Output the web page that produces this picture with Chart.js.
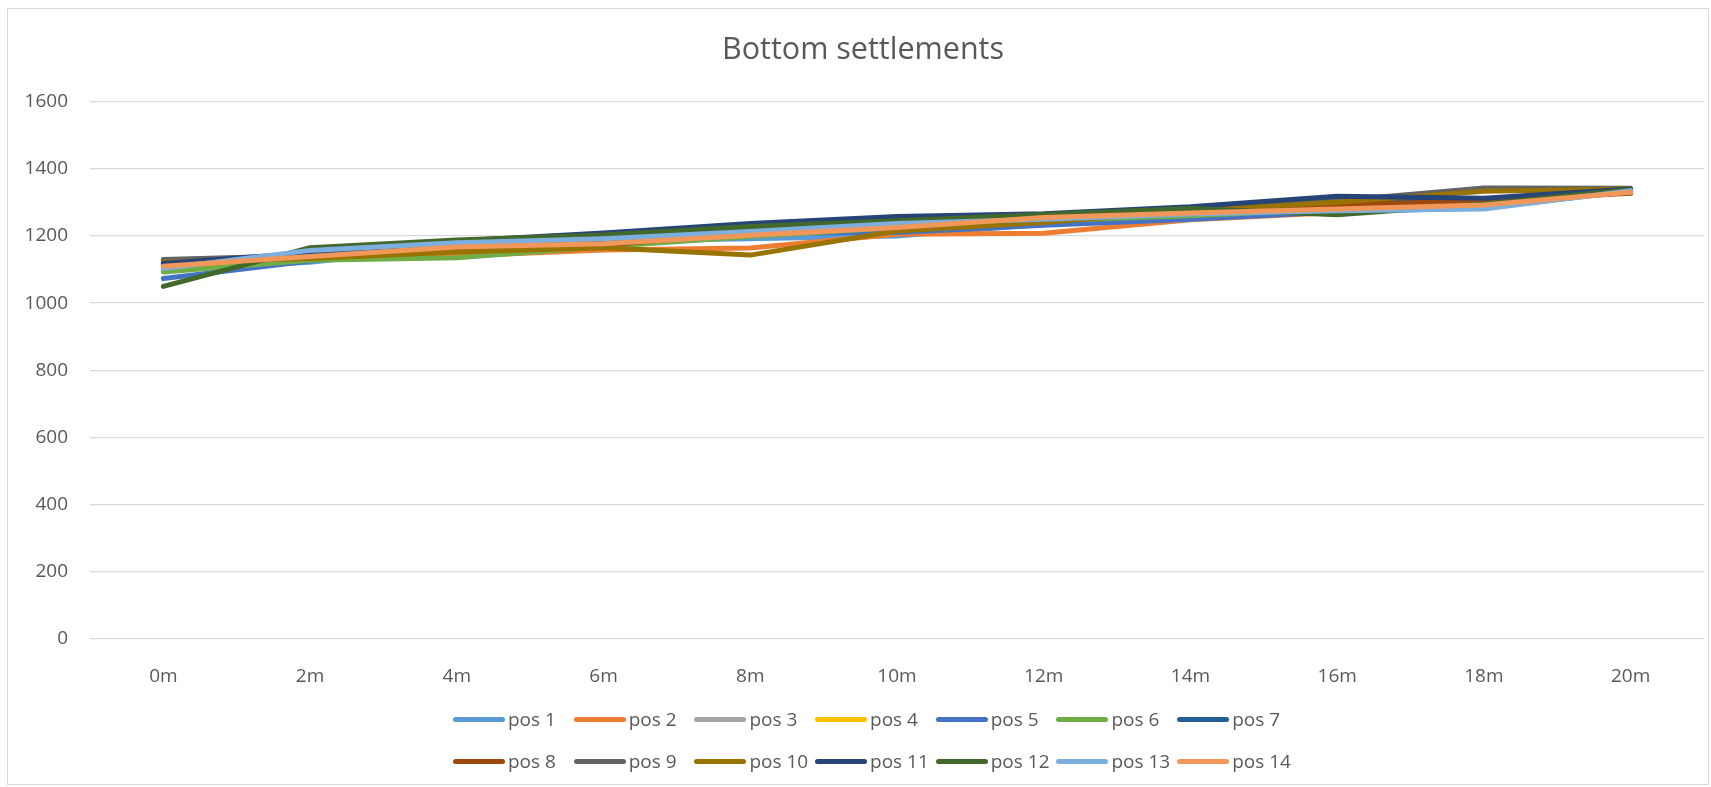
<!DOCTYPE html>
<html>
<head>
<meta charset="utf-8">
<title>Bottom settlements</title>
<script src="https://cdn.jsdelivr.net/npm/chart.js@4.4.1/dist/chart.umd.min.js"></script>
<style>
  body { margin: 0; background: #fff; font-family: "Open Sans", sans-serif; }
  #frame {
    position: absolute; left: 7px; top: 8px;
    width: 1702px; height: 777px;
    box-sizing: border-box; border: 1px solid #d9d9d9;
  }
  #legend {
    position: absolute; left: 453px; top: 707px;
    display: grid; grid-template-columns: repeat(7, 120.7px);
    row-gap: 18px;
  }
  .item { display: flex; align-items: center; height: 24px; white-space: nowrap; }
  .swatch { width: 52px; height: 5px; border-radius: 3px; }
  .label { margin-left: 3px; font-size: 19px; color: #595959; }
</style>
</head>
<body>
<div id="frame"><canvas id="chart"></canvas></div>
<div id="legend"></div>

<script>
const labels = ["0m", "2m", "4m", "6m", "8m", "10m", "12m", "14m", "16m", "18m", "20m"];

const pos1  = [1100, 1122, 1170, 1185, 1192, 1200, 1235, 1252, 1272, 1283, 1333];
const pos2  = [1108, 1130, 1140, 1158, 1164, 1205, 1208, 1248, 1270, 1290, 1332];
const pos3  = [1115, 1135, 1160, 1180, 1205, 1225, 1250, 1265, 1285, 1300, 1335];
const pos4  = [1112, 1133, 1158, 1178, 1203, 1222, 1248, 1262, 1283, 1298, 1335];
const pos5  = [1073, 1125, 1172, 1190, 1208, 1210, 1232, 1250, 1272, 1290, 1335];
const pos6  = [1093, 1128, 1135, 1168, 1198, 1225, 1245, 1260, 1280, 1295, 1335];
const pos7  = [1115, 1145, 1175, 1200, 1220, 1240, 1258, 1275, 1300, 1310, 1338];
const pos8  = [1128, 1140, 1160, 1172, 1210, 1230, 1250, 1270, 1292, 1305, 1327];
const pos9  = [1130, 1142, 1165, 1180, 1215, 1235, 1255, 1278, 1305, 1343, 1342];
const pos10 = [1122, 1133, 1152, 1165, 1143, 1215, 1240, 1276, 1300, 1333, 1340];
const pos11 = [1118, 1150, 1185, 1209, 1237, 1258, 1266, 1287, 1318, 1312, 1340];
const pos12 = [1050, 1165, 1188, 1203, 1228, 1245, 1264, 1282, 1263, 1295, 1338];
const pos13 = [1103, 1157, 1180, 1192, 1213, 1237, 1250, 1265, 1275, 1280, 1335];
const pos14 = [1110, 1139, 1167, 1177, 1202, 1225, 1255, 1268, 1280, 1292, 1330];

const seriesNames = ["pos 1", "pos 2", "pos 3", "pos 4", "pos 5", "pos 6", "pos 7",
                     "pos 8", "pos 9", "pos 10", "pos 11", "pos 12", "pos 13", "pos 14"];
const seriesData = [pos1, pos2, pos3, pos4, pos5, pos6, pos7,
                    pos8, pos9, pos10, pos11, pos12, pos13, pos14];
const colors = ["#5B9BD5", "#ED7D31", "#A5A5A5", "#FFC000", "#4472C4", "#70AD47", "#255E91",
                "#9E480E", "#636363", "#997300", "#264478", "#43682B", "#7CAFDD", "#F1975A"];

const yMin = 0, yMax = 1600, yStep = 200;

const textColor = "#595959";
const font = { family: "Open Sans", size: 19 };

// later series are painted on top, like in the original
const datasets = seriesNames.map((name, i) => ({
    label: name,
    data: seriesData[i],
    borderColor: colors[i],
    backgroundColor: colors[i],
    borderWidth: 5,
    borderCapStyle: "round",
    borderJoinStyle: "round",
    pointRadius: 0,
    tension: 0,
    fill: false,
    order: seriesNames.length - 1 - i
}));

const chart = new Chart(document.getElementById("chart").getContext("2d"), {
    type: "line",
    data: { labels: labels, datasets: datasets },
    options: {
        animation: false,
        responsive: true,
        maintainAspectRatio: false,
        layout: { padding: { left: 14, right: 4, top: 0, bottom: 0 } },
        plugins: {
            legend: { display: false },
            title: {
                display: true,
                text: "Bottom settlements",
                color: textColor,
                font: { family: "Open Sans", size: 30.5, weight: "normal" },
                padding: { top: 23, bottom: 33 }
            }
        },
        scales: {
            x: {
                offset: true,
                grid: { display: false },
                border: { display: false },
                ticks: { color: textColor, font: font, padding: 18, maxRotation: 0 },
                afterFit: function (scale) { scale.height = 145; }
            },
            y: {
                min: yMin,
                max: yMax,
                ticks: {
                    stepSize: yStep, color: textColor, font: font, padding: 22,
                    callback: function (value) { return String(value); }
                },
                grid: { color: "#d9d9d9", lineWidth: 1.3, drawTicks: false },
                border: { display: false },
                afterFit: function (scale) { scale.width = 68; }
            }
        }
    }
});

// legend laid out on a fixed grid, as Excel does
const legendBox = document.getElementById("legend");
chart.data.datasets.forEach(function (ds) {
    const item = document.createElement("div");
    item.className = "item";
    const swatch = document.createElement("span");
    swatch.className = "swatch";
    swatch.style.background = ds.borderColor;
    const text = document.createElement("span");
    text.className = "label";
    text.textContent = ds.label;
    item.appendChild(swatch);
    item.appendChild(text);
    legendBox.appendChild(item);
});
</script>
</body>
</html>
